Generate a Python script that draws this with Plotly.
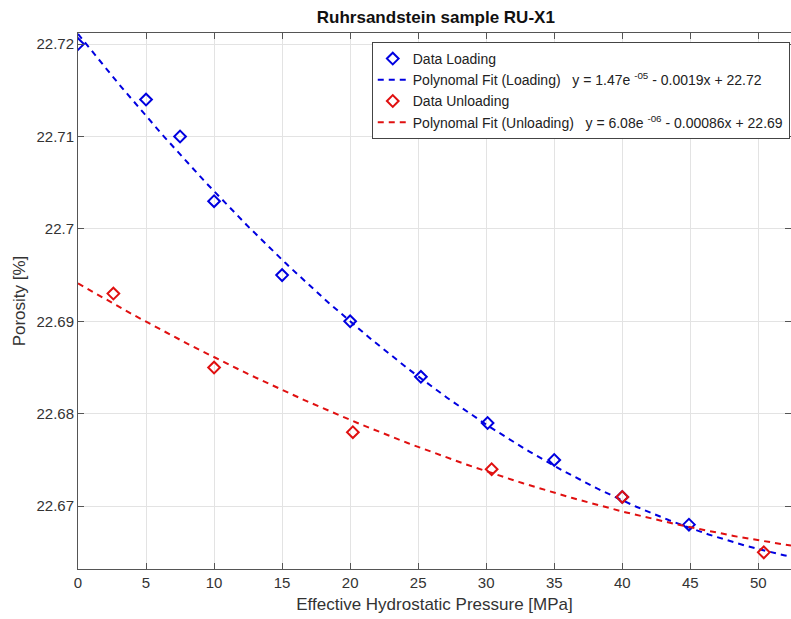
import numpy as np
import plotly.graph_objects as go

# Data
load_p = [0, 5, 7.5, 10, 15, 20, 25.2, 30.1, 35, 40, 44.9]
load_phi = [22.720, 22.714, 22.710, 22.703, 22.695, 22.690, 22.684, 22.679, 22.675, 22.671, 22.668]
unload_p = [2.6, 10, 20.2, 30.4, 40, 50.4]
unload_phi = [22.693, 22.685, 22.678, 22.674, 22.671, 22.665]

# quadratic fit coefficients (as shown in the legend, intercepts)
fit_load_coef = [1.47e-05, -0.00185, 22.7211]
fit_unload_coef = [6.08e-06, -0.00086, 22.6941]

x_ticks = [0, 5, 10, 15, 20, 25, 30, 35, 40, 45, 50]
y_ticks = [22.67, 22.68, 22.69, 22.70, 22.71, 22.72]
y_tick_text = ["22.67", "22.68", "22.69", "22.7", "22.71", "22.72"]

fit_label_load = "Polynomal Fit (Loading)   y = 1.47e <sup>-05</sup> - 0.0019x + 22.72"
fit_label_unload = "Polynomal Fit (Unloading)   y = 6.08e <sup>-06</sup> - 0.00086x + 22.69"

x_range = [0, 52.4]
y_range = [22.6632, 22.7212]

xf = np.linspace(x_range[0], x_range[1], 200)

BLUE = "#0000e0"
RED = "#e01010"
FONT = "Liberation Sans, Arial"

fig = go.Figure()
fig.add_trace(go.Scatter(x=load_p, y=load_phi, mode="markers", name="Data Loading",
                         marker=dict(symbol="diamond-open", size=9, color=BLUE, line=dict(width=2, color=BLUE))))
fig.add_trace(go.Scatter(x=xf, y=np.polyval(fit_load_coef, xf), mode="lines", name=fit_label_load,
                         line=dict(color=BLUE, width=2, dash="6px,5px")))
fig.add_trace(go.Scatter(x=unload_p, y=unload_phi, mode="markers", name="Data Unloading",
                         marker=dict(symbol="diamond-open", size=9, color=RED, line=dict(width=2, color=RED))))
fig.add_trace(go.Scatter(x=xf, y=np.polyval(fit_unload_coef, xf), mode="lines", name=fit_label_unload,
                         line=dict(color=RED, width=2, dash="6px,5px")))

axis_common = dict(showline=True, linecolor="#555555", linewidth=1, mirror="ticks",
                   ticks="inside", ticklen=6, tickcolor="#555555",
                   showgrid=True, gridcolor="#e3e3e3", gridwidth=1, zeroline=False,
                   tickfont=dict(family=FONT, size=15, color="#333333"))

fig.update_layout(
    width=791, height=619,
    margin=dict(l=78, r=0, t=33, b=50, autoexpand=False),
    paper_bgcolor="white", plot_bgcolor="white",
    title=dict(text="<b>Ruhrsandstein sample RU-X1</b>", x=0.551, xanchor="center", xref="container",
               yref="container", y=1 - 17 / 619, yanchor="middle",
               font=dict(family=FONT, size=17, color="#111111")),
    xaxis=dict(range=x_range, tickvals=x_ticks,
               title=dict(text="Effective Hydrostatic Pressure [MPa]", standoff=8,
                          font=dict(family=FONT, size=17, color="#333333")),
               **axis_common),
    yaxis=dict(range=y_range, tickvals=y_ticks, ticktext=y_tick_text,
               title=dict(text="Porosity [%]", standoff=6,
                          font=dict(family=FONT, size=17, color="#333333")),
               **axis_common),
    legend=dict(x=0.412, y=1 - 9 / 536, xanchor="left", yanchor="top",
                bgcolor="white", bordercolor="#444444", borderwidth=1,
                font=dict(family=FONT, size=14, color="#222222"),
                tracegroupgap=0, itemwidth=30),
    showlegend=True,
)

fig.write_html("out.html")
